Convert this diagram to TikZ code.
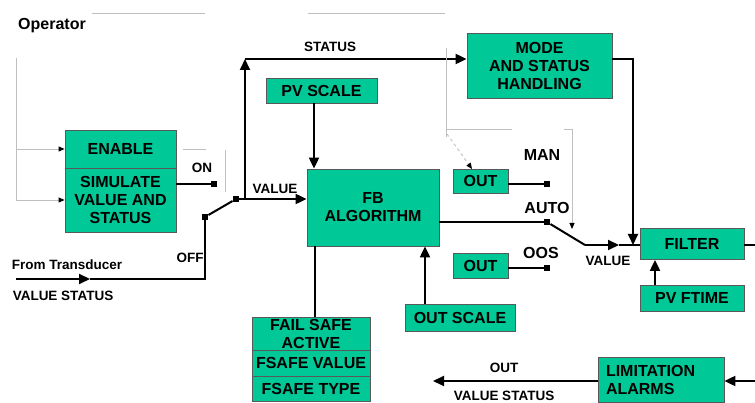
\documentclass[tikz,border=0pt]{standalone}
\usepackage{fontspec}
\setmainfont{Liberation Sans}
\usepackage{xcolor}
\usepackage{tikz}
\usetikzlibrary{arrows.meta}
\definecolor{blockgreen}{RGB}{0,200,150}

\begin{document}
\begin{tikzpicture}[
  x=1pt, y=-1pt,
  >={Triangle[length=11pt, width=10pt]},
  every node/.style={font=\fontsize{13.5}{15}\selectfont\bfseries, inner sep=0pt},
  block/.style={rectangle, draw=black!65, fill=blockgreen, line width=0.8pt,
    align=center, font=\fontsize{16}{18}\selectfont\bfseries},
  bigtext/.style={font=\fontsize{16}{18}\selectfont\bfseries},
  signal/.style={line width=2pt},
  faint/.style={draw=black!25, line width=0.9pt},
  faintarrow/.style={faint, -{Triangle[length=6pt, width=5pt, color=black]}},
  contact/.style={rectangle, fill=black, minimum size=6.5pt, inner sep=0pt}
]
  \useasboundingbox (0, 0) rectangle (755, 403);

  \node[bigtext] (operator) at (52, 26) {Operator};

  % blocks
  \node[block, minimum width=111pt, minimum height=38pt] (enable) at (120.5, 149) {ENABLE};
  \node[block, minimum width=111pt, minimum height=64pt] (simulate) at (120.5, 200)
    {SIMULATE\\VALUE AND\\STATUS};
  \node[block, minimum width=111pt, minimum height=25pt] (pvscale) at (321.5, 90.5) {PV SCALE};
  \node[block, minimum width=132pt, minimum height=77pt] (fb) at (373, 207.5) {FB\\ALGORITHM};
  \node[block, minimum width=145pt, minimum height=65pt] (mode) at (539.5, 65.5)
    {MODE\\AND STATUS\\HANDLING};
  \node[block, minimum width=55pt, minimum height=24pt] (outman) at (480.5, 181) {OUT};
  \node[block, minimum width=55pt, minimum height=25pt] (outoos) at (480.5, 265.5) {OUT};
  \node[block, minimum width=104pt, minimum height=31pt] (filter) at (692, 244) {FILTER};
  \node[block, minimum width=104pt, minimum height=26pt] (pvftime) at (692, 298) {PV FTIME};
  \node[block, minimum width=110pt, minimum height=27pt] (outscale) at (460, 317.5) {OUT SCALE};
  \node[block, minimum width=118pt, minimum height=33pt] (failsafe) at (311, 333.5) {FAIL SAFE\\ACTIVE};
  \node[block, minimum width=118pt, minimum height=26pt] (fsvalue) at (311, 363) {FSAFE VALUE};
  \node[block, minimum width=118pt, minimum height=25pt] (fstype) at (311, 388.5) {FSAFE TYPE};
  \node[block, minimum width=126pt, minimum height=45pt, text width=110pt, align=left]
    (limit) at (661, 379.5) {LIMITATION\\ALARMS};

  % switch contacts
  \node[contact] (con) at (214, 184) {};
  \node[contact] (coff) at (205, 217) {};
  \node[contact] (cval) at (236, 199) {};
  \node[contact] (cman) at (547, 184) {};
  \node[contact] (cauto) at (547, 222) {};
  \node[contact] (coos) at (547, 268) {};

  \coordinate (tin) at (16, 279);
  \coordinate (tmid) at (90, 279);
  \coordinate (stjoin) at (245, 199);
  \coordinate (stcorner) at (245, 59);
  \coordinate (pvtap) at (314, 103);
  \coordinate (fstap) at (315, 317);
  \coordinate (ostap) at (425, 304);
  \coordinate (vknee) at (585, 245);
  \coordinate (vmid) at (619, 245);
  \coordinate (mcorner) at (633, 59);
  \coordinate (mjoin) at (633, 245);
  \coordinate (fttap) at (655, 285);
  \coordinate (fout) at (755, 245);
  \coordinate (lin) at (755, 381);
  \coordinate (lout) at (433, 381);

  % signal lines
  \draw[signal, ->] (tin) -- (tmid);
  \draw[signal] (tmid) -- (coff |- tin) -- (coff);
  \draw[signal] (coff) -- (cval);
  \draw[signal, ->] (cval) -- (fb.west |- cval);
  \draw[signal, ->] (stjoin) -- (stcorner);
  \draw[signal, ->] (stcorner) -- (mode.west |- stcorner);
  \draw[signal] (simulate.east |- con) -- (con);
  \draw[signal, ->] (pvtap) -- (pvtap |- fb.north);
  \draw[signal] (fstap) -- (fstap |- fb.south);
  \draw[signal, ->] (ostap) -- (ostap |- fb.south);
  \draw[signal] (fb.east |- cauto) -- (cauto);
  \draw[signal] (outman.east |- cman) -- (cman);
  \draw[signal] (outoos.east |- coos) -- (coos);
  \draw[signal] (cauto) -- (vknee);
  \draw[signal, ->] (vknee) -- (vmid);
  \draw[signal] (vmid) -- (filter.west |- vmid);
  \draw[signal, ->] (mode.east |- mcorner) -- (mcorner) -- (mjoin);
  \draw[signal, ->] (fttap) -- (fttap |- filter.south);
  \draw[signal] (filter.east |- fout) -- (fout);
  \draw[signal, ->] (lin) -- (limit.east |- lin);
  \draw[signal, ->] (limit.west |- lout) -- (lout);

  % faint operator lines
  \coordinate (optop) at (16, 58);
  \draw[faintarrow] (optop) -- (optop |- simulate.west) -- (simulate.west);
  \draw[faintarrow] (optop |- enable.west) -- (enable.west);
  \draw[faint] (92, 13) -- (205, 13);
  \draw[faint] (308, 13) -- (445, 13);
  \draw[faint] (183, 149) -- (206, 149);
  \draw[faint] (225, 150) -- (225, 192);
  \coordinate (mtap) at (446, 48);
  \coordinate (mantap) at (472, 169);
  \draw[faint] (mtap) -- (446, 137);
  \draw[faint] (446, 129) -- (512, 129);
  \draw[faintarrow] (564, 129) -- (572, 129) -- (572, 229);
  \draw[faintarrow, dashed] (447, 134) -- (mantap);

  % labels
  \node (statuslbl) at (330, 47) {STATUS};
  \node (valuelbl) at (275, 189) {VALUE};
  \node (onlbl) at (202, 168) {ON};
  \node (offlbl) at (190, 258) {OFF};
  \node (fromlbl) at (67, 265) {From Transducer};
  \node (vslbl) at (63, 296) {VALUE STATUS};
  \node[bigtext] (manlbl) at (542, 155) {MAN};
  \node[bigtext] (autolbl) at (547, 208) {AUTO};
  \node[bigtext] (ooslbl) at (541, 253) {OOS};
  \node (filtvallbl) at (608, 261) {VALUE};
  \node (outlbl) at (504, 368) {OUT};
  \node (outvslbl) at (504, 396) {VALUE STATUS};
\end{tikzpicture}
\end{document}
